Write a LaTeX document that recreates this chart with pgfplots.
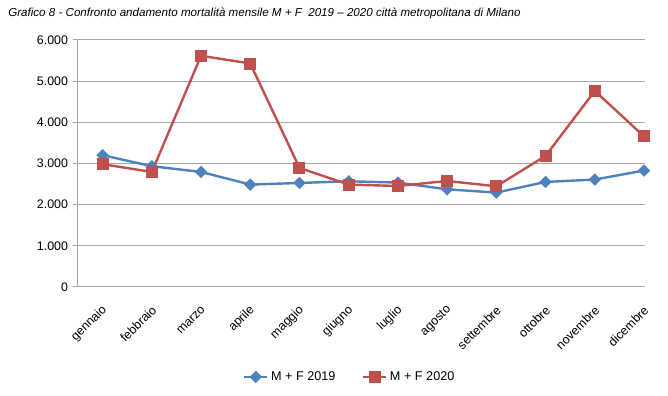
\documentclass[border=0pt]{standalone}
\usepackage{pgfplots}
\pgfplotsset{compat=1.18}
\usepackage{fontspec}
\setmainfont{Liberation Sans}
\definecolor{blu}{HTML}{4F81BD}
\definecolor{ros}{HTML}{C0504D}
\definecolor{gr}{HTML}{A6A6A6}
\begin{document}
\begin{tikzpicture}[x=1pt,y=1pt]
\useasboundingbox (-58.5,-81.75) rectangle (442.5,215.25);
\node[anchor=west,font=\fontsize{8.7}{11}\selectfont\itshape,inner sep=0pt] at (-52.5,205.5) {Grafico 8 - Confronto andamento mortalità mensile M + F\ \ 2019 – 2020 città metropolitana di Milano};
\begin{axis}[
  at={(0,0)}, anchor=south west,
  scale only axis, width=425.25pt, height=185.25pt,
  xmin=-0.5, xmax=11.02, ymin=0, ymax=6000,
  axis x line*=bottom, axis y line*=left,
  axis line style={gr, line width=0.75pt},
  ytick={0,1000,...,6000},
  ymajorgrids, grid style={gr, line width=0.75pt},
  scaled y ticks=false,
  /pgf/number format/assume math mode=true,
  yticklabel style={/pgf/number format/.cd, 1000 sep={.}, fixed},
  ticklabel style={font=\fontsize{9.3}{11}\selectfont},
  tick style={gr, line width=0.75pt},
  major tick length=4pt,
  tick align=outside,
  xtick={0,...,11},
  xticklabels={gennaio,febbraio,marzo,aprile,maggio,giugno,luglio,agosto,settembre,ottobre,novembre,dicembre},
  xticklabel style={yshift=-11pt, xshift=2.5pt, rotate=45, anchor=east, inner sep=1pt},
  extra x ticks={-0.5,0.5,...,10.5},
  extra x tick labels={},
  extra x tick style={major tick length=4pt, xmajorgrids=false},
  x tick style={draw=none},
  extra x tick style={tick style={draw=gr}},
  legend style={at={(0.48,-0.364)}, anchor=center, draw=none, legend columns=2,
    font=\fontsize{9.5}{11}\selectfont, /tikz/every even column/.append style={column sep=18pt}},
]
\addplot[blu, line width=1.8pt, mark=square*, mark size=2.4pt, mark options={rotate=45, solid}]
coordinates {(0,3202)(1,2934)(2,2795)(3,2488)(4,2527)(5,2568)(6,2537)(7,2373)(8,2293)(9,2552)(10,2610)(11,2829)};
\addlegendentry{M + F 2019}
\addplot[ros, line width=1.8pt, mark=square*, mark size=3.6pt]
coordinates {(0,2983)(1,2795)(2,5617)(3,5429)(4,2893)(5,2488)(6,2454)(7,2576)(8,2446)(9,3185)(10,4763)(11,3659)};
\addlegendentry{M + F 2020}
\end{axis}
\end{tikzpicture}
\end{document}
